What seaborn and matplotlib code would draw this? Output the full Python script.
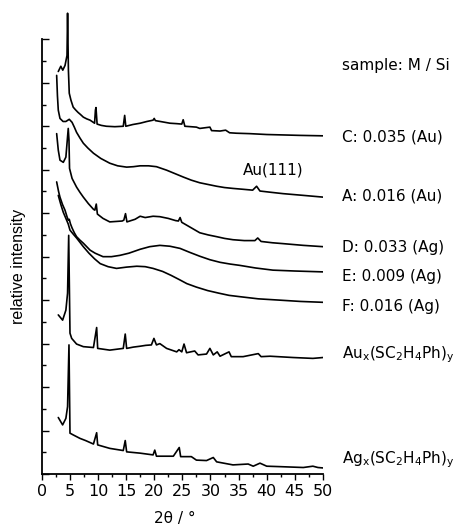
import numpy as np
import pandas as pd
import matplotlib
matplotlib.use("Agg")
import matplotlib.pyplot as plt
import seaborn as sns

# XRD patterns (2theta in degrees, stacked relative intensity)
c_x = [2.95, 3.4, 3.75, 4.15, 4.5, 4.6, 4.75, 4.9, 5.2, 5.6, 6.0, 6.45, 6.9, 7.4, 8.0, 8.6, 9.4, 9.55,
       9.65, 9.85, 10.6, 11.5, 13.0, 14.5, 14.75, 14.95, 16.2, 17.5, 18.7, 19.8, 20.0, 20.2, 21.5, 22.8,
       24.0, 24.9, 25.15, 25.45, 26.5, 27.5, 28.1, 29.9, 30.2, 31.7, 32.7, 33.4, 34.6, 37.0, 40.0,
       43.0, 45.9, 50.0]
c_y = [9.26, 9.38, 9.29, 9.40, 9.63, 10.6, 9.29, 8.76, 8.60, 8.44, 8.38, 8.32, 8.27, 8.21, 8.17, 8.14, 8.07, 8.37,
       8.43, 8.05, 8.02, 8.00, 7.99, 8.00, 8.25, 8.00, 8.04, 8.07, 8.11, 8.14, 8.18, 8.13, 8.10, 8.07,
       8.06, 8.05, 8.15, 8.00, 7.99, 7.98, 7.95, 7.98, 7.90, 7.89, 7.91, 7.85, 7.84, 7.83, 7.81,
       7.80, 7.79, 7.78]

a_x = [2.66, 2.8, 2.95, 3.25, 3.8, 4.3, 4.9, 5.4, 5.8, 6.2, 6.8, 7.4, 8.2, 9.2, 10.5, 12.1, 13.5, 15.1,
       16.3, 17.5, 19.0, 20.4, 21.3, 22.2, 23.7, 25.2, 26.6, 28.1, 29.6, 31.1, 32.5, 34.0, 35.8, 37.5,
       38.2, 38.8, 40.8, 42.9, 46.5, 50.0]
a_y = [9.17, 8.7, 8.37, 8.18, 8.11, 8.11, 8.16, 8.09, 7.98, 7.86, 7.73, 7.61, 7.50, 7.38, 7.26, 7.15, 7.09, 7.06,
       7.07, 7.09, 7.09, 7.07, 7.03, 6.99, 6.91, 6.83, 6.76, 6.70, 6.66, 6.62, 6.59, 6.57, 6.55, 6.53,
       6.62, 6.51, 6.48, 6.45, 6.41, 6.37]

d_x = [2.66, 2.95, 3.25, 3.84, 4.3, 4.72, 4.85, 4.95, 5.4, 5.8, 6.2, 6.8, 7.4, 8.3, 9.2, 9.45, 9.7, 9.9,
       10.9, 12.1, 13.2, 14.3, 14.6, 14.9, 15.15, 16.6, 17.5, 18.4, 19.8, 21.0, 22.5, 23.8, 24.3, 24.6,
       24.9, 26.5, 28.1, 29.6, 31.1, 32.5, 34.0, 36.0, 37.9, 38.4, 39.0, 41.0, 42.9, 46.5, 50.0]
d_y = [7.83, 7.45, 7.22, 7.17, 7.29, 7.95, 7.68, 7.03, 6.80, 6.70, 6.60, 6.48, 6.37, 6.22, 6.09, 6.07, 6.21, 5.98,
       5.88, 5.80, 5.81, 5.82, 5.84, 5.99, 5.80, 5.86, 5.93, 5.90, 5.93, 5.92, 5.88, 5.83, 5.82, 5.90,
       5.79, 5.67, 5.55, 5.50, 5.46, 5.42, 5.39, 5.37, 5.37, 5.43, 5.35, 5.32, 5.30, 5.26, 5.23]

e_x = [2.66, 3.0, 3.25, 3.7, 4.14, 4.5, 4.72, 4.9, 5.1, 5.4, 5.8, 6.2, 6.8, 7.4, 8.0, 8.6, 9.5, 10.9,
       12.4, 13.9, 15.5, 17.5, 19.2, 21.0, 22.8, 24.6, 26.3, 28.1, 29.9, 31.7, 33.5, 35.2, 38.0, 41.1,
       45.0, 50.0]
e_y = [6.72, 6.50, 6.37, 6.20, 6.07, 5.92, 5.84, 5.86, 5.76, 5.66, 5.55, 5.46, 5.38, 5.31, 5.23, 5.15, 5.08, 5.00,
       5.00, 5.03, 5.08, 5.17, 5.23, 5.26, 5.24, 5.19, 5.10, 5.01, 4.93, 4.87, 4.83, 4.80, 4.74, 4.69,
       4.67, 4.65]

f_x = [2.95, 3.4, 3.84, 4.3, 4.72, 5.03, 5.6, 6.2, 6.8, 7.4, 8.4, 9.4, 10.4, 11.8, 13.3, 15.1, 16.9,
       18.4, 19.8, 21.5, 23.0, 24.5, 25.8, 27.5, 29.5, 31.5, 33.3, 35.2, 38.5, 42.3, 46.0, 50.0]
f_y = [6.41, 6.20, 6.02, 5.88, 5.75, 5.61, 5.52, 5.43, 5.33, 5.23, 5.08, 4.95, 4.84, 4.77, 4.73, 4.76, 4.78,
       4.77, 4.73, 4.66, 4.57, 4.47, 4.38, 4.30, 4.22, 4.16, 4.11, 4.08, 4.03, 4.00, 3.97, 3.95]

au_x = [2.95, 3.72, 4.3, 4.6, 4.8, 5.03, 5.33, 6.2, 7.4, 9.2, 9.77, 9.95, 12.1, 14.5, 14.85, 15.1,
        16.3, 17.5, 18.5, 19.5, 19.95, 20.4, 21.0, 22.2, 24.0, 24.4, 24.9, 25.3, 25.75, 27.2, 27.8, 29.3,
        29.9, 30.5, 31.2, 31.7, 33.3, 33.7, 35.8, 38.5, 39.0, 40.6, 44.7, 48.2, 50.0]
au_y = [3.66, 3.54, 3.77, 4.16, 5.49, 3.24, 3.12, 2.99, 2.93, 2.91, 3.37, 2.89, 2.85, 2.89, 3.22, 2.89,
        2.92, 2.94, 2.96, 2.97, 3.12, 2.97, 3.00, 2.89, 2.81, 2.86, 2.81, 2.99, 2.79, 2.83, 2.74, 2.76,
        2.89, 2.74, 2.81, 2.71, 2.81, 2.70, 2.70, 2.77, 2.70, 2.71, 2.68, 2.66, 2.68]

ag_x = [2.95, 3.72, 4.3, 4.6, 4.85, 5.03, 5.6, 6.8, 7.8, 9.2, 9.77, 9.95, 12.1, 14.5, 14.85, 15.1, 17.5,
        19.8, 20.1, 20.4, 23.4, 24.45, 24.7, 26.6, 27.5, 29.3, 30.5, 31.1, 34.0, 36.7, 37.6, 38.8, 40.0,
        42.3, 46.5, 48.2, 49.1, 50.0]
ag_y = [1.30, 1.13, 1.28, 1.55, 2.97, 0.94, 0.90, 0.82, 0.77, 0.69, 0.95, 0.67, 0.59, 0.54, 0.77, 0.51, 0.48,
        0.44, 0.55, 0.41, 0.41, 0.61, 0.40, 0.40, 0.32, 0.31, 0.38, 0.28, 0.21, 0.23, 0.18, 0.25, 0.18,
        0.17, 0.15, 0.18, 0.15, 0.14]

curves = [(c_x, c_y), (a_x, a_y), (d_x, d_y), (e_x, e_y), (f_x, f_y), (au_x, au_y), (ag_x, ag_y)]

labels = ['C: 0.035 (Au)', 'A: 0.016 (Au)', 'D: 0.033 (Ag)', 'E: 0.009 (Ag)', 'F: 0.016 (Ag)',
          r'Au$_\mathregular{x}$(SC$_\mathregular{2}$H$_\mathregular{4}$Ph)$_\mathregular{y}$',
          r'Ag$_\mathregular{x}$(SC$_\mathregular{2}$H$_\mathregular{4}$Ph)$_\mathregular{y}$']
label_y = [7.75, 6.39, 5.22, 4.55, 3.85, 2.74, 0.32]

sns.set_style('ticks', {'axes.edgecolor': 'black', 'text.color': 'black', 'axes.labelcolor': 'black',
                        'xtick.color': 'black', 'ytick.color': 'black'})
plt.rcParams['font.family'] = ['DejaVu Sans']
plt.rcParams['mathtext.fontset'] = 'dejavusans'

fig = plt.figure(figsize=(4.7, 5.31), dpi=100)
ax = fig.add_axes([0.0887, 0.1073, 0.5985, 0.8776])

for xs, ys in curves:
    df = pd.DataFrame({'two_theta': xs, 'intensity': ys})
    sns.lineplot(data=df, x='two_theta', y='intensity', ax=ax, color='black',
                 linewidth=1.2, sort=False, estimator=None)

ax.set_xlim(0, 50)
ax.set_ylim(0, 10.72)
ax.spines['top'].set_visible(False)
ax.spines['right'].set_visible(False)
ax.spines['left'].set_bounds(0, 10)
ax.spines['left'].set_linewidth(1.3)
ax.spines['bottom'].set_linewidth(1.3)

ax.set_xticks(np.arange(0, 51, 5))
ax.set_xticks(np.arange(2.5, 50, 5), minor=True)
ax.set_yticks(np.arange(0, 11, 1))
ax.set_yticks(np.arange(0.5, 10, 1), minor=True)
ax.set_yticklabels([])
ax.tick_params(axis='x', which='major', direction='out', length=4, width=1, labelsize=11.5, pad=3)
ax.tick_params(axis='x', which='minor', direction='out', length=2, width=1)
ax.tick_params(axis='y', which='major', direction='in', length=5, width=1)
ax.tick_params(axis='y', which='minor', direction='in', length=3, width=1)

ax.set_xlabel('2θ / °', fontsize=11)
ax.xaxis.set_label_coords(0.474, -0.08)
ax.set_ylabel('relative intensity', fontsize=11.5, family='Liberation Sans')
ax.yaxis.set_label_coords(-0.056, 0.446)

ax.text(53.3, 9.4, 'sample: M / Si', fontsize=11, va='center', ha='left')
for lab, yy in zip(labels, label_y):
    ax.text(53.3, yy, lab, fontsize=11, va='center', ha='left')
ax.text(41.2, 6.99, 'Au(111)', fontsize=11, va='center', ha='center')

fig.savefig('out.png', dpi=100)
